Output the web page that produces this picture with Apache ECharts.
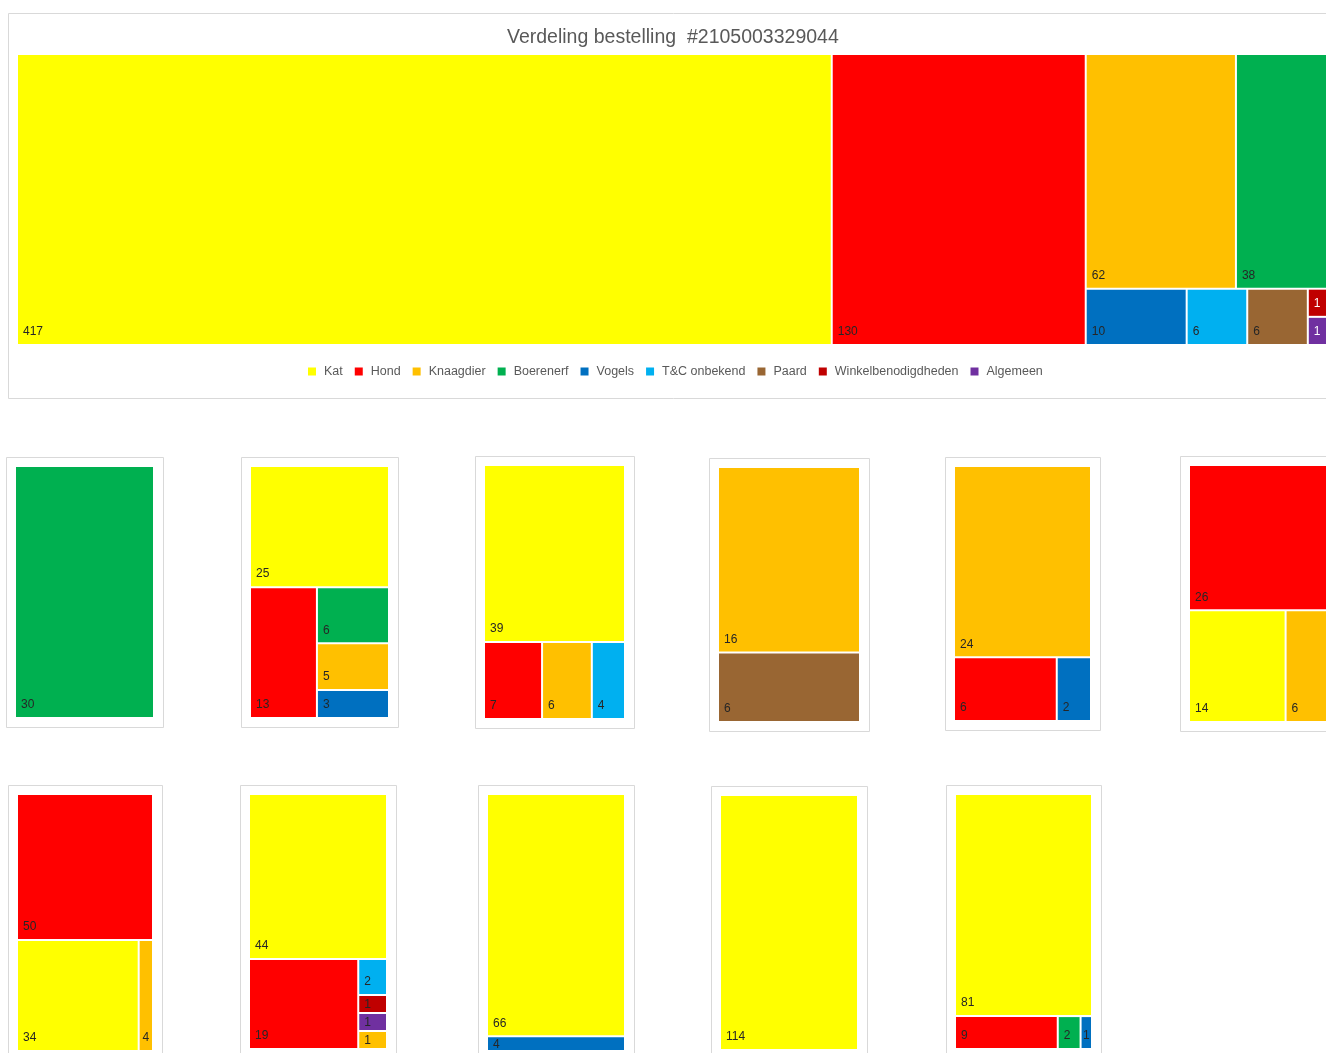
<!DOCTYPE html>
<html>
<head>
<meta charset="utf-8">
<title>Verdeling bestelling</title>
<script src="https://cdn.jsdelivr.net/npm/echarts@6/dist/echarts.min.js"></script>
<style>
  html, body { margin: 0; padding: 0; background: #ffffff; overflow: hidden; }
  #chart { width: 1340px; height: 1070px; }
</style>
</head>
<body>
<div id="chart"></div>
<script>
// ---- data ----------------------------------------------------------------
const categories = ['Kat', 'Hond', 'Knaagdier', 'Boerenerf', 'Vogels', 'T&C onbekend', 'Paard', 'Winkelbenodigdheden', 'Algemeen'];
const chartTitle = 'Verdeling bestelling  #2105003329044';

// whole order, per category
const totaal = [['Kat', 417], ['Hond', 130], ['Knaagdier', 62], ['Boerenerf', 38], ['Vogels', 10], ['T&C onbekend', 6], ['Paard', 6], ['Winkelbenodigdheden', 1], ['Algemeen', 1]];

// one list per part of the order
const deel1 = [['Boerenerf', 30]];
const deel2 = [['Kat', 25], ['Hond', 13], ['Boerenerf', 6], ['Knaagdier', 5], ['Vogels', 3]];
const deel3 = [['Kat', 39], ['Hond', 7], ['Knaagdier', 6], ['T&C onbekend', 4]];
const deel4 = [['Knaagdier', 16], ['Paard', 6]];
const deel5 = [['Knaagdier', 24], ['Hond', 6], ['Vogels', 2]];
const deel6 = [['Hond', 26], ['Kat', 14], ['Knaagdier', 6]];
const deel7 = [['Hond', 50], ['Kat', 34], ['Knaagdier', 4]];
const deel8 = [['Kat', 44], ['Hond', 19], ['T&C onbekend', 2], ['Winkelbenodigdheden', 1], ['Algemeen', 1], ['Knaagdier', 1]];
const deel9 = [['Kat', 66], ['Vogels', 4]];
const deel10 = [['Kat', 114]];
const deel11 = [['Kat', 81], ['Hond', 9], ['Boerenerf', 2], ['Vogels', 1]];

const delen = [deel1, deel2, deel3, deel4, deel5, deel6, deel7, deel8, deel9, deel10, deel11];

// ---- styling -------------------------------------------------------------
const kleuren = {
  'Kat': '#FFFF00',
  'Hond': '#FF0000',
  'Knaagdier': '#FFC000',
  'Boerenerf': '#00B050',
  'Vogels': '#0070C0',
  'T&C onbekend': '#00B0F0',
  'Paard': '#996633',
  'Winkelbenodigdheden': '#C00000',
  'Algemeen': '#7030A0'
};
const FONT = "'Liberation Sans', Arial, sans-serif";
const LABEL_DARK = '#262626';

// plot rectangles of the small treemaps: [x, y, width, height]
const kleineVlakken = [
  [16, 467, 137, 250], [251, 467, 137, 250], [485, 466, 139, 252],
  [719, 468, 140, 253], [955, 467, 135, 253], [1190, 466, 136, 255],
  [18, 795, 134, 255], [250, 795, 136, 253], [488, 795, 136, 255],
  [721, 796, 136, 253], [956, 795, 135, 253]
];
const hoofdVlak = [18, 55, 1309, 289];

function knopen(rows, witLabels) {
  return rows.map(function (r) {
    const node = { name: r[0], value: r[1], itemStyle: { color: kleuren[r[0]] } };
    if (witLabels && witLabels.indexOf(r[0]) >= 0) node.label = { color: '#ffffff' };
    return node;
  });
}

// value labels sit in the lower-left corner; in very low or narrow tiles
// they are centred so they stay inside their own tile
function plaatsLabel(p) {
  const r = p.rect;
  const l = p.labelRect;
  const laag = r.height < 24;
  const smal = r.width < l.width + 8;
  if (!laag && !smal) return { dx: 5, dy: -7 };
  const out = {};
  out.x = smal ? r.x + (r.width - l.width) / 2 : r.x + 5;
  out.align = 'left';
  if (laag) {
    out.y = r.y + r.height / 2 + 1;
    out.verticalAlign = 'middle';
  } else {
    out.y = r.y + r.height - 7;
    out.verticalAlign = 'bottom';
  }
  return out;
}

function treemapSerie(rows, vlak, ratio, witLabels) {
  const s = {
    type: 'treemap',
    left: vlak[0],
    top: vlak[1],
    width: vlak[2],
    height: vlak[3],
    roam: false,
    nodeClick: false,
    silent: true,
    breadcrumb: { show: false },
    sort: false,
    animation: false,
    itemStyle: { borderWidth: 0, gapWidth: 2, borderColor: '#ffffff' },
    levels: [
      { itemStyle: { borderWidth: 0, gapWidth: 2 } },
      { itemStyle: { borderWidth: 0 } }
    ],
    label: {
      show: true,
      position: 'insideBottomLeft',
      formatter: '{c}',
      color: LABEL_DARK,
      fontFamily: FONT,
      fontSize: 12,
      lineHeight: 10,
      padding: 0,
      overflow: 'none'
    },
    labelLayout: plaatsLabel,
    data: knopen(rows, witLabels)
  };
  if (ratio) s.squareRatio = ratio;
  return s;
}

const series = [];
series.push(treemapSerie(totaal, hoofdVlak, null, ['Winkelbenodigdheden', 'Algemeen']));
delen.forEach(function (rows, i) {
  series.push(treemapSerie(rows, kleineVlakken[i], 1, null));
});

// empty series so the legend can list every category
categories.forEach(function (c) {
  series.push({ type: 'bar', name: c, data: [], itemStyle: { color: kleuren[c] }, xAxisIndex: 0, yAxisIndex: 0 });
});

// chart frames
const graphics = [];
graphics.push({
  type: 'rect', z: -10, silent: true,
  shape: { x: 8.5, y: 13.5, width: 1330, height: 385 },
  style: { fill: '#ffffff', stroke: '#d9d9d9', lineWidth: 1 }
});
kleineVlakken.forEach(function (v) {
  graphics.push({
    type: 'rect', z: -10, silent: true,
    shape: { x: v[0] - 10 + 0.5, y: v[1] - 10 + 0.5, width: v[2] + 20, height: v[3] + 20 },
    style: { fill: '#ffffff', stroke: '#d9d9d9', lineWidth: 1 }
  });
});

const option = {
  animation: false,
  backgroundColor: '#ffffff',
  title: {
    text: chartTitle,
    left: 502,
    top: 23,
    textStyle: { fontFamily: FONT, fontSize: 19.5, fontWeight: 'normal', color: '#595959' }
  },
  legend: {
    data: categories,
    left: 303,
    top: 360,
    icon: 'rect',
    itemWidth: 8,
    itemHeight: 8,
    itemGap: 12,
    selectedMode: false,
    textStyle: { fontFamily: FONT, fontSize: 12.5, color: '#595959', padding: [0, 0, 0, 3] }
  },
  grid: { show: false, left: 0, top: 0, width: 1, height: 1 },
  xAxis: { show: false, type: 'category', data: [] },
  yAxis: { show: false, type: 'value' },
  graphic: graphics,
  series: series
};

const chart = echarts.init(document.getElementById('chart'), null, { renderer: 'canvas' });
chart.setOption(option);
</script>
</body>
</html>
